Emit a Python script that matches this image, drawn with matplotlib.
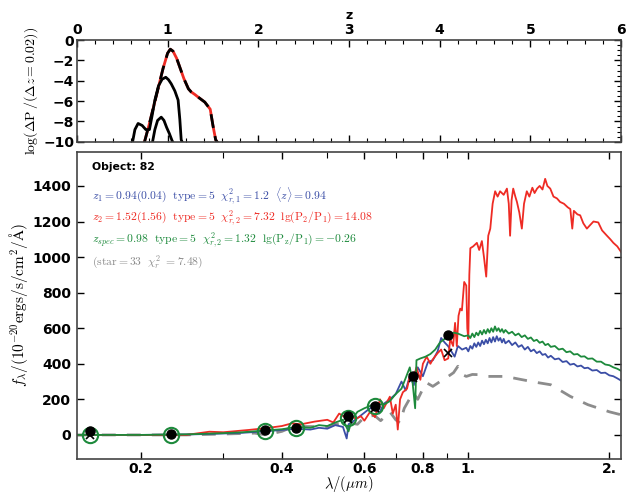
import matplotlib
matplotlib.use("Agg")
import matplotlib.pyplot as plt
from matplotlib.ticker import FixedLocator, NullFormatter, MultipleLocator

plt.rcParams['mathtext.fontset'] = 'cm'
plt.rcParams['font.family'] = ['DejaVu Sans']

# ---------------- top panel: P(z) ----------------
pz_a_z = [0.74, 0.80, 0.85, 0.90, 0.95, 1.00, 1.03, 1.06, 1.10, 1.14, 1.18, 1.23, 1.26, 1.30, 1.35, 1.41, 1.47, 1.50, 1.53, 1.56]
pz_a_v = [-10.2, -8.2, -6.4, -4.6, -2.8, -1.3, -0.9, -1.1, -1.8, -2.8, -3.8, -4.8, -5.1, -5.35, -5.7, -6.1, -6.8, -8.4, -9.8, -10.2]
pz_b_z = [0.61, 0.64, 0.675, 0.72, 0.76, 0.80, 0.83, 0.86, 0.90, 0.94, 0.98, 1.01, 1.04, 1.08, 1.116, 1.135, 1.15, 1.17]
pz_b_v = [-10.2, -8.8, -8.2, -8.4, -8.8, -8.8, -7.4, -5.9, -4.5, -3.85, -3.66, -3.9, -4.3, -5.0, -5.9, -7.8, -9.8, -10.2]
pz_c_z = [0.83, 0.86, 0.89, 0.93, 0.96, 0.99, 1.02, 1.05, 1.07]
pz_c_v = [-10.2, -8.8, -7.9, -7.58, -7.9, -8.6, -9.2, -9.9, -10.2]

# ---------------- bottom panel: SED ----------------
blue_wl = [0.146, 0.2, 0.25, 0.3, 0.33, 0.368, 0.40, 0.43, 0.46, 0.48, 0.50, 0.52, 0.54, 0.55, 0.555,
           0.57, 0.59, 0.61, 0.63, 0.645, 0.66, 0.68, 0.70, 0.72, 0.735, 0.75, 0.765, 0.78, 0.80, 0.82,
           0.84, 0.86, 0.875, 0.89, 0.905, 0.92, 0.935, 0.95, 0.97, 0.99,
           1.00, 1.01, 1.02, 1.03, 1.04, 1.05, 1.06, 1.07, 1.08, 1.09, 1.10, 1.11, 1.12, 1.13, 1.14,
           1.15, 1.16, 1.17, 1.18, 1.19, 1.20, 1.22, 1.24, 1.26, 1.28, 1.30, 1.32, 1.34, 1.36, 1.38,
           1.40, 1.42, 1.44, 1.46, 1.48, 1.50, 1.53, 1.56, 1.59, 1.62, 1.65, 1.68, 1.71, 1.74, 1.77,
           1.80, 1.84, 1.88, 1.92, 1.96, 2.00, 2.04, 2.08, 2.12]
blue_fx = [0, 0, 2, 8, 12, 20, 28, 35, 30, 40, 35, 55, 45, -20, 60,
           80, 110, 140, 165, 120, 175, 200, 230, 300, 250, 330, 280, 380, 330, 410,
           420, 470, 545, 520, 500, 470, 440, 500, 480, 490,
           470, 500, 485, 515, 495, 520, 500, 530, 510, 535, 515, 545, 520, 550, 525,
           555, 530, 545, 520, 540, 515, 530, 505, 520, 495, 505, 480, 495, 470, 480,
           460, 470, 450, 455, 435, 445, 425, 430, 410, 415, 395, 400, 385, 390, 375,
           378, 362, 365, 348, 350, 335, 330, 318, 305]

green_wl = [0.146, 0.2, 0.25, 0.3, 0.33, 0.368, 0.40, 0.43, 0.46, 0.48, 0.50, 0.52, 0.54, 0.555,
            0.565, 0.58, 0.60, 0.62, 0.64, 0.66, 0.68, 0.70, 0.72, 0.735, 0.75, 0.76, 0.77, 0.775,
            0.79, 0.81, 0.83, 0.85, 0.87, 0.89, 0.91, 0.93, 0.95, 0.98,
            1.00, 1.01, 1.02, 1.03, 1.04, 1.05, 1.06, 1.07, 1.08, 1.09, 1.10, 1.11, 1.12, 1.13, 1.14,
            1.15, 1.16, 1.17, 1.18, 1.19, 1.20, 1.22, 1.24, 1.26, 1.28, 1.30, 1.32, 1.34, 1.36, 1.38,
            1.40, 1.42, 1.44, 1.46, 1.48, 1.50, 1.53, 1.56, 1.59, 1.62, 1.65, 1.68, 1.71, 1.74, 1.77,
            1.80, 1.84, 1.88, 1.92, 1.96, 2.00, 2.04, 2.08, 2.12]
green_fx = [0, 0, 3, 10, 15, 25, 32, 45, 40, 55, 50, 70, 85, 20,
            90, 130, 150, 165, 175, 170, 190, 230, 260, 320, 380, 300, 150, 420,
            430, 440, 455, 480, 520, 540, 560, 575, 570, 555,
            560, 545, 570, 550, 575, 560, 585, 565, 590, 570, 595, 575, 600, 580, 610,
            585, 600, 580, 595, 575, 590, 570, 580, 560, 570, 550, 560, 540, 548, 528,
            535, 518, 525, 505, 512, 495, 500, 480, 485, 465, 470, 452, 455, 440, 442,
            428, 430, 412, 412, 396, 392, 380, 372, 360]

red_wl = [0.146, 0.25, 0.28, 0.30, 0.34, 0.37, 0.40, 0.42, 0.44, 0.47, 0.50, 0.515, 0.53, 0.545,
          0.56, 0.575, 0.59, 0.60, 0.617, 0.632, 0.648, 0.66, 0.68, 0.69, 0.70, 0.707, 0.715, 0.725,
          0.74, 0.75, 0.762, 0.775, 0.79, 0.80, 0.815, 0.83, 0.84, 0.86, 0.875, 0.89, 0.906, 0.915,
          0.928, 0.937, 0.945, 0.953, 0.961, 0.969, 0.98, 0.99, 0.995, 1.0, 1.005, 1.01, 1.024, 1.043,
          1.055, 1.069, 1.08, 1.092, 1.103, 1.114, 1.127, 1.141, 1.155, 1.169, 1.19, 1.209, 1.22,
          1.228, 1.237, 1.247, 1.26, 1.27, 1.285, 1.301, 1.315, 1.333, 1.35, 1.37, 1.385, 1.402,
          1.42, 1.44, 1.459, 1.475, 1.496, 1.52, 1.546, 1.57, 1.6, 1.63, 1.651, 1.667, 1.68, 1.71,
          1.733, 1.76, 1.791, 1.82, 1.85, 1.894, 1.93, 1.977, 2.01, 2.04, 2.08, 2.12]
red_fx = [0, 0, 18, 15, 28, 38, 50, 65, 60, 75, 85, 70, 120, 100,
          115, 90, 105, 80, 130, 100, 200, 150, 215, 120, 170, 30, 200, 240,
          260, 330, 310, 380, 310, 400, 440, 400, 425, 460, 480, 420, 430, 540,
          500, 630, 500, 670, 710, 700, 860, 840, 600, 540, 900, 1050, 1060, 1080,
          1040, 1090, 1000, 890, 1120, 1160, 1300, 1370, 1340, 1370, 1350, 1385, 1300,
          1120, 1320, 1385, 1340, 1310, 1250, 1160, 1300, 1370, 1340, 1390, 1360, 1385,
          1400, 1380, 1440, 1400, 1385, 1340, 1330, 1310, 1300, 1280, 1270, 1160, 1260, 1240,
          1235, 1190, 1160, 1180, 1200, 1195, 1150, 1120, 1100, 1080, 1060, 1028]

star_wl = [0.146, 0.25, 0.30, 0.35, 0.37, 0.40, 0.423, 0.46, 0.50, 0.52, 0.55, 0.58, 0.60, 0.63,
           0.65, 0.68, 0.70, 0.714, 0.73, 0.762, 0.78, 0.80, 0.815, 0.84, 0.87, 0.906, 0.93, 0.95,
           0.97, 0.99, 1.02, 1.05, 1.1, 1.2, 1.3, 1.4, 1.5, 1.65, 1.8, 2.0, 2.12]
star_fx = [0, 0, 5, 10, 0, 20, 47, 47, 45, 60, 70, 60, 100, 110,
           80, 130, 85, 68, 150, 237, 200, 260, 293, 273, 300, 329, 350, 386,
           340, 329, 340, 339, 329, 329, 311, 295, 282, 217, 170, 130, 113]

phot_wl = [0.156, 0.232, 0.368, 0.428, 0.554, 0.632, 0.762, 0.906]
phot_fx = [22, 5, 25, 40, 105, 160, 330, 560]
model_wl = [0.156, 0.232, 0.368, 0.428, 0.554, 0.632]
model_fx = [0, 0, 22, 38, 95, 165]
cross_wl = [0.156, 0.554, 0.632, 0.762, 0.906]
cross_fx = [0, 90, 150, 320, 460]

C_BLUE = '#3b4ea6'
C_RED = '#ee2b24'
C_GREEN = '#1d8a3c'
C_GRAY = '#8c8c8c'

fig = plt.figure(figsize=(6.30, 4.94), dpi=100)
ax1 = fig.add_axes([0.122, 0.713, 0.864, 0.206])
ax2 = fig.add_axes([0.122, 0.071, 0.864, 0.621])

# top panel
ax1.plot(pz_a_z, pz_a_v, color=C_RED, lw=2.0)
ax1.plot(pz_a_z, pz_a_v, color='black', lw=2.0, dashes=(5, 3))
ax1.plot(pz_b_z, pz_b_v, color='black', lw=2.0)
ax1.plot(pz_c_z, pz_c_v, color='black', lw=2.0)
ax1.set_xlim(0, 6)
ax1.set_ylim(-10, 0)
ax1.xaxis.set_major_locator(MultipleLocator(1))
ax1.xaxis.set_minor_locator(MultipleLocator(0.2))
ax1.set_yticks([-10, -8, -6, -4, -2, 0])
ax1.set_yticklabels(['\u221210', '\u22128', '\u22126', '\u22124', '\u22122', '0'])
ax1.yaxis.set_minor_locator(MultipleLocator(0.5))
ax1.tick_params(which='both', direction='in', top=True, bottom=True, left=True, right=True,
                labeltop=True, labelbottom=False, pad=2)
ax1.tick_params(which='major', length=5, width=1)
ax1.tick_params(which='minor', length=3, width=0.8, left=False)
ax1.xaxis.set_label_position('top')
ax1.set_xlabel('z', fontsize=9, fontweight='bold', labelpad=3)
ax1.set_ylabel(r'$\log(\Delta\mathrm{P}\,/(\Delta z=0.02))$', fontsize=10, labelpad=2)
for lab in ax1.get_xticklabels() + ax1.get_yticklabels():
    lab.set_fontweight('bold'); lab.set_fontsize(10)

# bottom panel
ax2.plot(star_wl, star_fx, color=C_GRAY, lw=2.0, dashes=(5, 4))
ax2.plot(blue_wl, blue_fx, color=C_BLUE, lw=1.3)
ax2.plot(red_wl, red_fx, color=C_RED, lw=1.3)
ax2.plot(green_wl, green_fx, color=C_GREEN, lw=1.3)
ax2.plot(model_wl, model_fx, 'o', mfc='none', mec=C_GREEN, ms=11, mew=1.5)
ax2.plot(phot_wl, phot_fx, 'o', color='black', ms=6.5)
ax2.plot(cross_wl, cross_fx, 'x', color='black', ms=6, mew=1.2)
ax2.set_xscale('log')
ax2.set_xlim(0.146, 2.12)
ax2.set_ylim(-135, 1590)
ax2.xaxis.set_major_locator(FixedLocator([0.2, 0.4, 0.6, 0.8, 1.0, 2.0]))
ax2.xaxis.set_minor_locator(FixedLocator([0.3, 0.5, 0.7, 0.9]))
ax2.xaxis.set_minor_formatter(NullFormatter())
ax2.set_xticklabels(['0.2', '0.4', '0.6', '0.8', '1.', '2.'])
ax2.yaxis.set_major_locator(MultipleLocator(200))
ax2.tick_params(which='both', direction='in', top=True, bottom=True, left=True, right=True)
ax2.tick_params(axis='x', pad=2)
ax2.tick_params(axis='y', pad=4)
ax2.tick_params(which='major', length=5, width=1)
ax2.tick_params(which='minor', length=4, width=0.8)
for lab in ax2.get_xticklabels() + ax2.get_yticklabels():
    lab.set_fontweight('bold'); lab.set_fontsize(10)
ax2.set_xlabel(r'$\lambda/(\mu m)$', fontsize=10.5, labelpad=-1)
ax2.set_ylabel(r'$f_\lambda/(10^{-20}\mathrm{ergs/s/cm^2/\AA})$', fontsize=11, labelpad=2)

for ax in (ax1, ax2):
    for s in ax.spines.values():
        s.set_color('#444444'); s.set_linewidth(1.2)

ax2.text(0.027, 0.951, 'Object: 82', transform=ax2.transAxes, fontsize=7.8,
         fontweight='bold', va='center')
ax2.text(0.027, 0.857, r'$z_1=0.94(0.04)\ \ \mathrm{type}=5\ \ \chi^2_{r,1}=1.2\ \ \langle z\rangle=0.94$',
         transform=ax2.transAxes, fontsize=8.4, color=C_BLUE, va='center')
ax2.text(0.027, 0.785, r'$z_2=1.52(1.56)\ \ \mathrm{type}=5\ \ \chi^2_{r,2}=7.32\ \ \mathrm{lg(P_2/P_1)}=14.08$',
         transform=ax2.transAxes, fontsize=8.4, color=C_RED, va='center')
ax2.text(0.027, 0.713, r'$z_{spec}=0.98\ \ \mathrm{type}=5\ \ \chi^2_{r,2}=1.32\ \ \mathrm{lg(P_z/P_1)}=-0.26$',
         transform=ax2.transAxes, fontsize=8.4, color=C_GREEN, va='center')
ax2.text(0.027, 0.642, r'$(\mathrm{star}=33\ \ \chi^2_r\ =7.48)$',
         transform=ax2.transAxes, fontsize=8.4, color=C_GRAY, va='center')

fig.savefig('out.png', dpi=100)
